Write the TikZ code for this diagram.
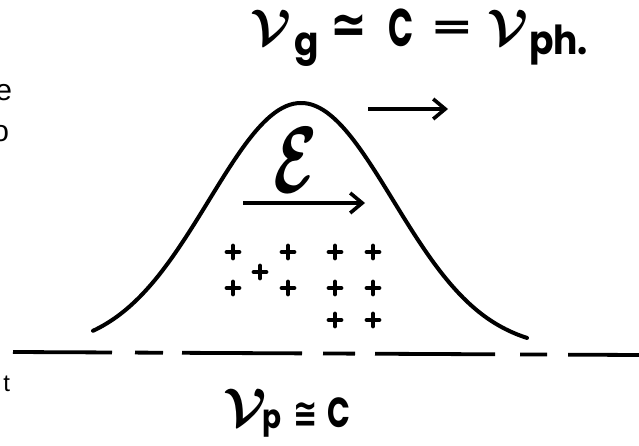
\documentclass[tikz,border=0pt]{standalone}
\usepackage{fontspec}
\usepackage{graphicx}
\usetikzlibrary{arrows.meta}
\newfontfamily\lf{Poppins}
\newfontfamily\lsf{Liberation Sans}
\newfontfamily\dvs{DejaVu Sans}
\tikzset{
  hump/.style={line width=4pt, line cap=round},
  axisdash/.style={line width=3.8pt},
  vecarrow/.style={line width=3.6pt, -{Straight Barb[length=12pt,width=20pt,line width=3.6pt]}},
  lbl/.style={inner sep=0pt, outer sep=0pt},
  crosssign/.pic={\draw[line width=4.8pt, line cap=round] (-6,0)--(6,0) (0,-6)--(0,6);}
}
\newcommand\lett[1]{{\lf\bfseries #1}}
\newcommand\bm[1]{{\boldmath$#1$}}
\newcommand\sym[1]{{\dvs\bfseries #1}}
\begin{document}
\begin{tikzpicture}[x=1pt,y=-1pt]
\useasboundingbox (0,0) rectangle (639,446);
\clip (0,0) rectangle (639,446);
% hump
\draw[hump] plot[domain=93:527, samples=120, smooth] (\x, {350-247*exp(-0.5*((\x-301)/92)^2)});
% dashed axis
\foreach \a/\b in {13/112,135/163,182/302,323/355,375/495,520/547,568/645}
  \draw[axisdash] (\a,{352+3*(\a-13)/626}) -- (\b,{352+3*(\b-13)/626});
% arrows
\coordinate (ta) at (368,109);
\coordinate (tb) at (448,109);
\coordinate (ba) at (243,203);
\coordinate (bb) at (365,203);
\draw[vecarrow] (ta) -- (tb);
\draw[vecarrow] (ba) -- (bb);
% field symbol
\node[lbl] (E) at (296,160) {\scalebox{6.4}[9.4]{\bm{\mathcal{E}}}};
% charges
\foreach \p/\q in {233/252,288/252,335/252,373/252,260/272,233/288,288/288,335/288,373/288,335/320,373/320}
  \pic at (\p,\q) {crosssign};
% top equation
\node[lbl, anchor=base west] (v1) at (250,45) {\scalebox{5.0}{\bm{\mathcal{V}}}};
\node[lbl, anchor=base west] (g1) at (294,56) {\scalebox{3.6}[4.0]{\lett{g}}};
\node[lbl] (ap1) at (349,29) {\scalebox{4.4}[5.6]{\sym{≃}}};
\node[lbl, anchor=base west] (c1) at (388,47) {\scalebox{3.3}[5.3]{\lett{C}}};
\node[lbl] (eq1) at (452,30) {\scalebox{5.2}[3.8]{\sym{=}}};
\node[lbl, anchor=base west] (v2) at (487,45) {\scalebox{5.0}{\bm{\mathcal{V}}}};
\node[lbl, anchor=base west] (ph) at (529,55) {\scalebox{3.6}[4.0]{\lett{ph.}}};
% bottom equation
\node[lbl, anchor=base west] (v3) at (223,425) {\scalebox{5.3}{\bm{\mathcal{V}}}};
\node[lbl, anchor=base west] (p1) at (262,428) {\scalebox{2.8}[3.3]{\lett{p}}};
\node[lbl] (ap2) at (306,415) {\scalebox{2.9}[4.0]{\sym{≅}}};
\node[lbl, anchor=base west] (c2) at (327,427) {\scalebox{3.0}[4.2]{\lett{C}}};
% cut-off fragments at left
\node[lbl, anchor=base east] (fe) at (12,101) {\lsf\fontsize{30}{30}\selectfont e};
\node[lbl, anchor=base east] (fo) at (9,142) {\lsf\fontsize{30}{30}\selectfont o};
\node[lbl, anchor=base east] (ft) at (10,391) {\lsf\fontsize{24}{24}\selectfont t};
\end{tikzpicture}
\end{document}
